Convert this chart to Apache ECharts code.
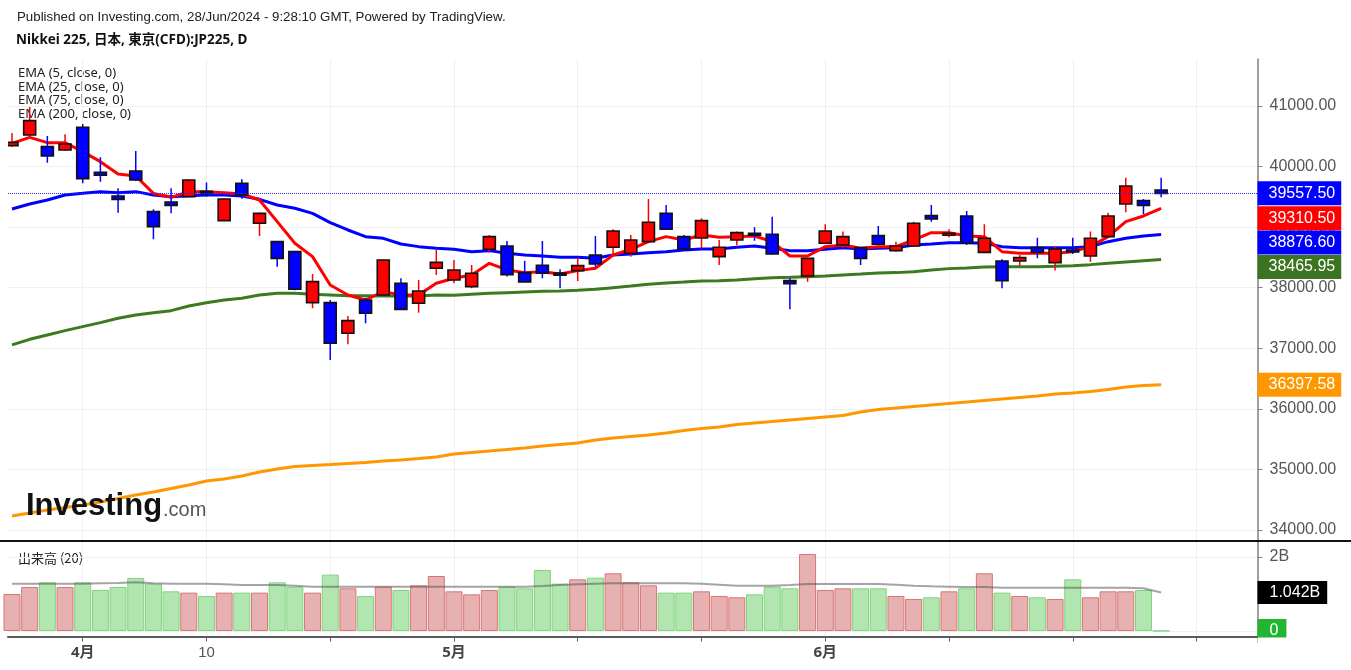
<!DOCTYPE html>
<html><head><meta charset="utf-8">
<script src="https://cdn.jsdelivr.net/npm/echarts@6/dist/echarts.min.js"></script>
<style>html,body{margin:0;padding:0;background:#fff;}#chart{width:1351px;height:670px;}</style>
</head><body><div id="chart"></div>
<script>
// ---------- data ----------
const dates = ['2024-03-26','2024-03-27','2024-03-28','2024-03-29',
'2024-04-01','2024-04-02','2024-04-03','2024-04-04','2024-04-05','2024-04-08','2024-04-09','2024-04-10','2024-04-11','2024-04-12','2024-04-15','2024-04-16','2024-04-17','2024-04-18','2024-04-19','2024-04-22','2024-04-23','2024-04-24','2024-04-25','2024-04-26','2024-04-30',
'2024-05-01','2024-05-02','2024-05-07','2024-05-08','2024-05-09','2024-05-10','2024-05-13','2024-05-14','2024-05-15','2024-05-16','2024-05-17','2024-05-20','2024-05-21','2024-05-22','2024-05-23','2024-05-24','2024-05-27','2024-05-28','2024-05-29','2024-05-30','2024-05-31',
'2024-06-03','2024-06-04','2024-06-05','2024-06-06','2024-06-07','2024-06-10','2024-06-11','2024-06-12','2024-06-13','2024-06-14','2024-06-17','2024-06-18','2024-06-19','2024-06-20','2024-06-21','2024-06-24','2024-06-25','2024-06-26','2024-06-27','2024-06-28'];
const futureDates = ['2024-07-01','2024-07-02','2024-07-03','2024-07-04','2024-07-05'];

const open = [40345,40521,40329,40274,40648,39905,39514,39927,39256,39415,
39503,39590,39107,39724,39063,38761,38595,37754,37754,37247,
37798,37880,38073,37743,38320,38128,38018,38634,38689,38249,
38370,38240,38282,38540,38667,38568,38761,39228,38843,38821,
38513,38788,38898,38882,38117,38194,38733,38706,38662,38860,
38612,38689,39190,38876,39184,38584,38441,38441,38662,38414,
38623,38524,38843,39382,39437,39614];
const high = [40555,40985,40505,40533,40703,40153,39641,40257,39294,39641,
39790,39735,39480,39790,39240,38770,38600,38227,37798,37533,
37836,38470,38155,38128,38623,38458,38375,38870,38772,38447,
38772,38304,38496,38854,38964,38870,39465,39366,38870,39146,
38788,38926,38997,39173,38155,38490,39047,38926,38670,39019,
38760,39091,39366,38964,39267,39047,38469,38540,38826,38678,
38826,38926,39239,39817,39465,39817];
const low = [40325,40500,40065,40260,39724,39751,39239,39760,38799,39228,
39495,39503,39100,39470,38854,38348,37960,37660,36807,37066,
37412,37870,37640,37588,38210,38073,37990,38579,38183,38090,
38155,37990,38111,38348,38540,38513,38750,38960,38635,38650,
38375,38700,38777,38550,37643,38100,38720,38650,38375,38710,
38595,38678,39091,38832,38706,38580,37990,38364,38485,38282,
38557,38430,38832,39245,39217,39492];
const close = [40400,40758,40175,40373,39801,39856,39459,39779,39008,39360,
39779,39580,39465,39531,39228,38485,37974,38100,37082,37456,
37577,38458,37643,37946,38419,38293,38238,38843,38216,38095,
38238,38215,38364,38392,38937,38788,39080,38964,38640,39107,
38667,38909,38865,38557,38067,38485,38937,38843,38485,38717,
38689,39063,39135,38898,38733,38816,38117,38496,38584,38640,
38595,38816,39184,39680,39360,39557.5];

const ema5 = [40384,40483,40395,40395,40246,40081,39878,39845,39558,39492,
39586,39586,39569,39547,39448,39091,38733,38513,38045,37880,
37797,37935,37880,37880,38073,38155,38210,38403,38293,38249,
38265,38227,38282,38320,38540,38634,38760,38843,38788,38870,
38832,38843,38854,38760,38524,38524,38678,38705,38650,38678,
38678,38788,38909,38909,38854,38843,38595,38568,38568,38568,
38595,38678,38843,39091,39184,39310.5];
const ema25 = [39300,39382,39448,39531,39558,39586,39569,39586,39531,39503,
39520,39531,39531,39514,39459,39366,39311,39228,39074,38953,
38843,38815,38722,38678,38650,38634,38595,38612,38568,38540,
38524,38502,38502,38485,38540,38557,38579,38595,38623,38640,
38640,38667,38689,38650,38612,38612,38634,38661,38640,38650,
38661,38705,38722,38744,38744,38733,38678,38661,38661,38661,
38661,38678,38760,38815,38854,38876.6];
const ema75 = [37055,37148,37220,37291,37357,37423,37495,37550,37588,37621,
37698,37753,37797,37825,37880,37907,37907,37891,37880,37869,
37869,37864,37864,37864,37880,37875,37891,37907,37918,37929,
37940,37946,37957,37974,38001,38028,38056,38078,38094,38111,
38116,38127,38149,38166,38171,38182,38193,38210,38226,38243,
38249,38265,38293,38315,38326,38342,38348,38348,38348,38353,
38364,38381,38403,38425,38447,38465.95];
const ema200 = [34231,34281,34330,34371,34413,34462,34520,34578,34627,34685,
34743,34809,34842,34892,34958,35007,35048,35065,35081,35098,
35114,35139,35156,35180,35205,35255,35280,35304,35329,35354,
35387,35412,35436,35486,35519,35544,35568,35601,35643,35676,
35700,35742,35767,35791,35816,35841,35866,35890,35948,35989,
36014,36039,36064,36089,36113,36138,36163,36188,36212,36245,
36262,36287,36320,36361,36386,36397.58];

// volume in billions
const volumeB = [1.000,1.189,1.315,1.189,1.315,1.108,1.189,1.432,1.279,1.072,
1.036,0.946,1.036,1.036,1.036,1.315,1.198,1.036,1.523,1.153,
0.946,1.198,1.108,1.234,1.486,1.072,0.991,1.108,1.198,1.153,
1.649,1.279,1.396,1.441,1.559,1.315,1.234,1.036,1.036,1.072,
0.946,0.910,0.991,1.198,1.153,2.081,1.108,1.153,1.153,1.153,
0.946,0.865,0.910,1.072,1.153,1.559,1.036,0.946,0.910,0.865,
1.396,0.910,1.072,1.072,1.108,0.004];
const volMA20B = [1.279,1.279,1.279,1.279,1.279,1.288,1.297,1.315,1.288,1.279,
1.279,1.279,1.261,1.243,1.243,1.243,1.225,1.198,1.198,1.198,
1.198,1.198,1.198,1.198,1.198,1.198,1.198,1.198,1.198,1.198,
1.216,1.243,1.261,1.279,1.288,1.288,1.288,1.288,1.288,1.279,
1.252,1.225,1.225,1.225,1.243,1.270,1.270,1.270,1.270,1.270,
1.252,1.225,1.207,1.198,1.189,1.189,1.171,1.171,1.171,1.171,
1.171,1.171,1.171,1.171,1.153,1.042];

const priceTicks = [34000,35000,36000,37000,38000,39000,40000,41000];
const volumeTicks = [0, 2];
const gridDates = ['2024-04-01','2024-04-10','2024-04-19','2024-05-01','2024-05-14','2024-05-23','2024-06-03','2024-06-12','2024-06-21','2024-07-02'];
const dateLabels = {'2024-04-01':'4月','2024-04-10':'10','2024-05-01':'5月','2024-06-03':'6月'};
const boldLabels = ['4月','5月','6月'];

const titleText = 'Published on Investing.com, 28/Jun/2024 - 9:28:10 GMT, Powered by TradingView.';
const symbolText = 'Nikkei 225, 日本, 東京(CFD):JP225, D';
const legendTexts = ['EMA (5, close, 0)','EMA (25, close, 0)','EMA (75, close, 0)','EMA (200, close, 0)'];
const volumeTitle = '出来高 (20)';

// ---------- build ----------
const allDates = dates.concat(futureDates);
const pos = d => allDates.indexOf(d);
const gridPos = gridDates.map(pos);
const labelPos = Object.keys(dateLabels).map(pos);
const isUp = i => close[i] >= open[i];
const pairs = arr => arr.map((v, i) => [i, v]);
const last = arr => arr[arr.length - 1];

const X_MIN = -0.226, X_MAX = 70.45;
const P_MIN = 33818, P_MAX = 41776;
const V_MIN = -0.149, V_MAX = 2.432;
const PRICE_TOP = 59, PRICE_H = 482;
const pxPerVal = PRICE_H / (P_MAX - P_MIN);
const FONT = '"Liberation Sans", Arial, sans-serif';
const NOTO = '"Noto Sans", "Noto Sans CJK JP", sans-serif';

function axisBox(value, text, bg, shiftPx, lineStyle, pad) {
  return {
    silent: true, symbol: ['none', 'none'], animation: false,
    lineStyle: lineStyle || { color: 'rgba(0,0,0,0)', width: 1 },
    emphasis: { disabled: true },
    label: {
      show: true, position: 'end', distance: 0, formatter: text,
      backgroundColor: bg, color: '#fff', fontSize: 16, lineHeight: 16,
      fontFamily: FONT, padding: pad || [4, 6, 4, 11]
    },
    data: [{ yAxis: value - shiftPx / pxPerVal }]
  };
}

const xCommon = { type: 'value', min: X_MIN, max: X_MAX };
const option = {
  animation: false,
  backgroundColor: '#ffffff',
  grid: [
    { left: 8, top: PRICE_TOP, width: 1249.5, height: PRICE_H, outerBoundsMode: 'none' },
    { left: 8, top: 541, width: 1249.5, height: 95.5, outerBoundsMode: 'none' }
  ],
  xAxis: [
    Object.assign({}, xCommon, {
      gridIndex: 0, axisLine: { show: false },
      axisTick: { show: false, customValues: gridPos },
      axisLabel: { show: false, customValues: gridPos },
      splitLine: { show: true, lineStyle: { color: '#f0f0f0', width: 1 } }
    }),
    Object.assign({}, xCommon, {
      gridIndex: 1,
      axisLine: { show: true, onZero: false, lineStyle: { color: '#5a5a5a', width: 2 } },
      axisTick: { show: true, customValues: gridPos, length: 5, lineStyle: { color: '#5a5a5a', width: 1 } },
      axisLabel: {
        show: true, customValues: labelPos, margin: 9,
        formatter: v => {
          const t = dateLabels[allDates[Math.round(v)]] || '';
          return boldLabels.includes(t) ? '{b|' + t + '}' : '{n|' + t + '}';
        },
        rich: {
          b: { fontSize: 15, fontWeight: 'bold', color: '#444', fontFamily: NOTO },
          n: { fontSize: 15, color: '#555', fontFamily: FONT }
        }
      },
      splitLine: { show: true, lineStyle: { color: '#f0f0f0', width: 1 } }
    })
  ],
  yAxis: [
    {
      type: 'value', gridIndex: 0, position: 'right', min: P_MIN, max: P_MAX, scale: true,
      axisLine: { show: true, onZero: false, lineStyle: { color: '#808080', width: 1.5 } },
      axisTick: { show: true, customValues: priceTicks, length: 5, lineStyle: { color: '#808080' } },
      axisLabel: { show: true, customValues: priceTicks, margin: 12, formatter: v => v.toFixed(2),
        color: '#555', fontSize: 16, fontFamily: FONT },
      splitLine: { show: true, lineStyle: { color: '#f0f0f0', width: 1 } }
    },
    {
      type: 'value', gridIndex: 1, position: 'right', min: V_MIN, max: V_MAX,
      axisLine: { show: true, onZero: false, lineStyle: { color: '#808080', width: 1.5 } },
      axisTick: { show: true, customValues: volumeTicks, length: 5, lineStyle: { color: '#808080' } },
      axisLabel: { show: true, customValues: volumeTicks, margin: 12, formatter: v => v === 0 ? '0' : v + 'B',
        color: '#555', fontSize: 16, fontFamily: FONT },
      splitLine: { show: true, lineStyle: { color: '#f0f0f0', width: 1 } }
    }
  ],
  series: [
    {
      name: 'EMA200', type: 'line', xAxisIndex: 0, yAxisIndex: 0, data: pairs(ema200),
      showSymbol: false, z: 2, lineStyle: { color: '#ff9800', width: 3 },
      markLine: axisBox(last(ema200), last(ema200).toFixed(2), '#ff9800', 0)
    },
    {
      name: 'EMA75', type: 'line', xAxisIndex: 0, yAxisIndex: 0, data: pairs(ema75),
      showSymbol: false, z: 2, lineStyle: { color: '#3b7a1e', width: 3 },
      markLine: axisBox(last(ema75), last(ema75).toFixed(2), '#3b7320', 7.5)
    },
    {
      name: 'EMA25', type: 'line', xAxisIndex: 0, yAxisIndex: 0, data: pairs(ema25),
      showSymbol: false, z: 2, lineStyle: { color: '#0000ff', width: 3 },
      markLine: axisBox(last(ema25), last(ema25).toFixed(2), '#0000ff', 8)
    },
    {
      name: 'EMA5', type: 'line', xAxisIndex: 0, yAxisIndex: 0, data: pairs(ema5),
      showSymbol: false, z: 2, lineStyle: { color: '#ff0000', width: 3 },
      markLine: axisBox(last(ema5), last(ema5).toFixed(2), '#ff0000', 10)
    },
    {
      name: 'JP225', type: 'custom', xAxisIndex: 0, yAxisIndex: 0, clip: true, z: 4,
      data: dates.map((d, i) => [i, open[i], close[i], low[i], high[i]]),
      renderItem: (params, api) => {
        const i = api.value(0), o = api.value(1), c = api.value(2), l = api.value(3), h = api.value(4);
        const col = c >= o ? '#ff0000' : '#0000ff';
        const pO = api.coord([i, o]), pC = api.coord([i, c]), pL = api.coord([i, l]), pH = api.coord([i, h]);
        const w = 12;
        const top = Math.min(pO[1], pC[1]), bot = Math.max(pO[1], pC[1]);
        const cs = params.coordSys;
        return {
          type: 'group',
          clipPath: { type: 'rect', shape: { x: cs.x, y: cs.y, width: cs.width, height: cs.height } },
          children: [
            { type: 'line', shape: { x1: pH[0], y1: pH[1], x2: pL[0], y2: pL[1] }, style: { stroke: col, lineWidth: 1.5 } },
            { type: 'rect', shape: { x: pO[0] - w / 2, y: top, width: w, height: Math.max(bot - top, 2) },
              style: { fill: col, stroke: '#111', lineWidth: 1.6 } }
          ]
        };
      },
      markLine: axisBox(last(close), last(close).toFixed(2), '#0000ff', 0,
        { color: '#2a2aff', width: 1, type: [1, 1] })
    },
    {
      name: 'Volume', type: 'bar', xAxisIndex: 1, yAxisIndex: 1, barWidth: 17, z: 2,
      data: volumeB.map((v, i) => ({
        value: [i, v],
        itemStyle: isUp(i)
          ? { color: '#e8b1b1', borderColor: '#d97474', borderWidth: 1 }
          : { color: '#b2e6b0', borderColor: '#7fd47c', borderWidth: 1 }
      })),
      markLine: axisBox(last(volumeB), '0', '#22b531', 0, null, [4, 8, 4, 12])
    },
    {
      name: 'Vol MA', type: 'line', xAxisIndex: 1, yAxisIndex: 1, data: pairs(volMA20B),
      showSymbol: false, z: 3, lineStyle: { color: 'rgba(90,90,90,0.55)', width: 2 },
      markLine: axisBox(last(volMA20B), last(volMA20B).toFixed(3) + 'B', '#000000', 0, null, [4, 7, 3, 12])
    }
  ],
  graphic: [
    { type: 'text', x: 17, y: 17, z: 1, style: { text: titleText, font: '13.3px ' + FONT, fill: '#222', verticalAlign: 'middle' } },
    { type: 'text', x: 16, y: 40, z: 1, style: { text: symbolText, font: 'bold 13.5px ' + NOTO, fill: '#111', verticalAlign: 'middle' } },
    { type: 'text', x: 18, y: 73, z: 0, style: { text: legendTexts[0], font: '13px ' + NOTO, fill: '#222', verticalAlign: 'middle' } },
    { type: 'text', x: 18, y: 87, z: 0, style: { text: legendTexts[1], font: '13px ' + NOTO, fill: '#222', verticalAlign: 'middle' } },
    { type: 'text', x: 18, y: 100.5, z: 0, style: { text: legendTexts[2], font: '13px ' + NOTO, fill: '#222', verticalAlign: 'middle' } },
    { type: 'text', x: 18, y: 114.5, z: 0, style: { text: legendTexts[3], font: '13px ' + NOTO, fill: '#222', verticalAlign: 'middle' } },
    { type: 'text', x: 18, y: 558, z: 0, style: { text: volumeTitle, font: '13px "Noto Sans CJK JP", ' + NOTO, fill: '#222', verticalAlign: 'middle' } },
    { type: 'text', x: 26, y: 506, z: 100, style: { text: 'Investing', font: 'bold 31px ' + FONT, fill: '#111', verticalAlign: 'middle' } },
    { type: 'text', x: 163, y: 510, z: 100, style: { text: '.com', font: '20px ' + FONT, fill: '#555', verticalAlign: 'middle' } },
    { type: 'line', z: 100, shape: { x1: 0, y1: 541, x2: 1351, y2: 541 }, style: { stroke: '#111', lineWidth: 2 } },
    { type: 'rect', z: 100, shape: { x: 1258, y: 637.5, width: 40, height: 10 }, style: { fill: '#fff' } }
  ]
};
const chart = echarts.init(document.getElementById('chart'));
chart.setOption(option);
</script></body></html>
